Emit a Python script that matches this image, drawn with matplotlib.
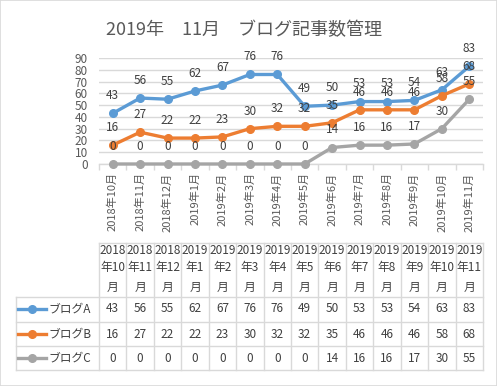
import matplotlib
matplotlib.use("Agg")
import matplotlib.pyplot as plt
import numpy as np
from matplotlib.lines import Line2D
from matplotlib.patches import Rectangle
from matplotlib.transforms import blended_transform_factory

plt.rcParams['font.family'] = ['Noto Sans CJK JP', 'DejaVu Sans']

months = ['2018年10月', '2018年11月', '2018年12月', '2019年1月', '2019年2月',
          '2019年3月', '2019年4月', '2019年5月', '2019年6月', '2019年7月',
          '2019年8月', '2019年9月', '2019年10月', '2019年11月']
blog_a = [43, 56, 55, 62, 67, 76, 76, 49, 50, 53, 53, 54, 63, 83]
blog_b = [16, 27, 22, 22, 23, 30, 32, 32, 35, 46, 46, 46, 58, 68]
blog_c = [0, 0, 0, 0, 0, 0, 0, 0, 14, 16, 16, 17, 30, 55]
series_names = ['ブログA', 'ブログB', 'ブログC']
series_colors = ['#5B9BD5', '#ED7D31', '#A5A5A5']
title = '2019年　11月　ブログ記事数管理'

W, H = 497, 386
TEXT = '#404040'
GRID = '#D9D9D9'


def fx(px):
    return px / W


def fy(py):
    return 1 - py / H


fig = plt.figure(figsize=(W / 100, H / 100), dpi=100)
fig.patches.append(Rectangle((0, 0), 1, 1, transform=fig.transFigure,
                             fill=False, edgecolor=GRID, lw=1.2))

fig.text(fx(244), fy(30), title, ha='center', va='center',
         fontsize=13, color='#595959')

# plot area
ax = fig.add_axes([fx(99), fy(164), (483 - 99) / W, (164 - 58) / H])
x = np.arange(len(months))
series = [blog_a, blog_b, blog_c]

for vals, color in zip(series, series_colors):
    ax.plot(x, vals, color=color, lw=2.4, marker='o', markersize=5.5,
            solid_capstyle='round', zorder=3, clip_on=False)
for vals in series:
    for xi, v in zip(x, vals):
        ax.annotate(str(v), (xi, v), xytext=(0, 8), textcoords='offset points',
                    ha='center', va='bottom', fontsize=8.5, color=TEXT,
                    zorder=4, annotation_clip=False)

ax.set_xlim(-0.5, len(months) - 0.5)
ax.set_ylim(0, 90)
ax.set_yticks(np.arange(0, 91, 10))
ax.yaxis.grid(True, color=GRID, lw=1)
ax.set_axisbelow(True)
for s in ['top', 'right', 'left']:
    ax.spines[s].set_visible(False)
ax.spines['bottom'].set_color(GRID)
ax.spines['bottom'].set_linewidth(1)
ax.tick_params(axis='y', length=0, pad=8, labelsize=8.5, labelcolor='#595959')
ax.set_xticks(x)
ax.set_xticklabels(months, rotation=90, fontsize=8, color='#595959')
ax.tick_params(axis='x', which='major', length=0, pad=6)
ax.set_xticks(np.arange(len(months) + 1) - 0.5, minor=True)
ax.tick_params(axis='x', which='minor', length=4, color=GRID, width=1)

# data table below the chart
tr = blended_transform_factory(ax.transData, fig.transFigure)
bounds = np.arange(len(months) + 1) - 0.5
for b in bounds:
    fig.add_artist(Line2D([b, b], [fy(243), fy(370)], transform=tr,
                          color=GRID, lw=1))
fig.add_artist(Line2D([fx(16), fx(16)], [fy(297), fy(370)],
                      transform=fig.transFigure, color=GRID, lw=1))
fig.add_artist(Line2D([bounds[0], bounds[-1]], [fy(243), fy(243)], transform=tr,
                      color=GRID, lw=1))
for yy in [297, 322, 346, 370]:
    fig.add_artist(Line2D([fx(16), fx(483)], [fy(yy), fy(yy)],
                          transform=fig.transFigure, color=GRID, lw=1))

for xi, m in zip(x, months):
    year, rest = m.split('年')
    parts = [year, '年' + rest[:-1], '月']
    for yy, p in zip([250, 268, 287], parts):
        fig.text(xi, fy(yy), p, transform=tr, ha='center', va='center',
                 fontsize=8.5, color=TEXT)

row_y = [309, 334, 358]
for ry, name, color, vals in zip(row_y, series_names, series_colors, series):
    fig.add_artist(Line2D([fx(18), fx(46)], [fy(ry), fy(ry)],
                          transform=fig.transFigure, color=color, lw=2.4))
    fig.add_artist(Line2D([fx(32)], [fy(ry)], transform=fig.transFigure,
                          color=color, marker='o', markersize=5.5))
    fig.text(fx(48), fy(ry), name, ha='left', va='center', fontsize=8.5,
             color=TEXT)
    for xi, v in zip(x, vals):
        fig.text(xi, fy(ry), str(v), transform=tr, ha='center', va='center',
                 fontsize=8.5, color=TEXT)

fig.savefig('out.png', dpi=100)
